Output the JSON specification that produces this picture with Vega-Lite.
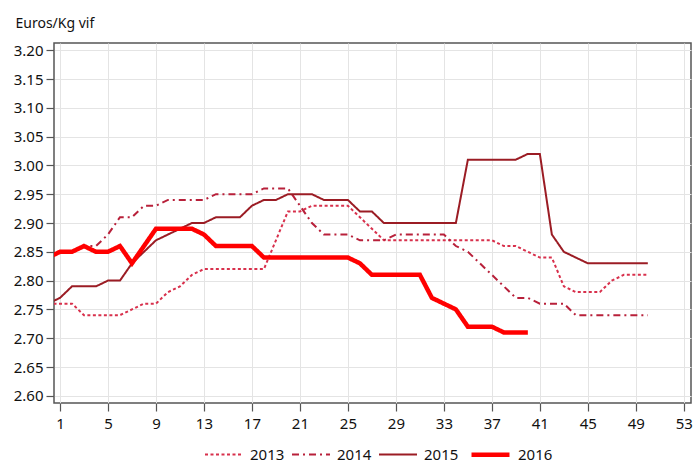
{
  "$schema": "https://vega.github.io/schema/vega-lite/v6.json",
  "width": 637,
  "height": 360,
  "autosize": {"type": "none"},
  "padding": {"left": 54, "top": 43, "right": 2, "bottom": 61},
  "background": "white",
  "config": {
    "font": "Noto Sans",
    "view": {"stroke": "#555555", "strokeWidth": 1.5},
    "axis": {"labelFont": "Noto Sans", "labelFontSize": 15, "labelColor": "#111111", "tickColor": "#555555", "tickSize": 8, "tickWidth": 1.2, "gridColor": "#e4e4e4", "gridWidth": 1, "domain": false}
  },
  "data": {"values": [
    {"year":"2013","week":0,"price":2.76},{"year":"2013","week":1,"price":2.76},{"year":"2013","week":2,"price":2.76},{"year":"2013","week":3,"price":2.74},{"year":"2013","week":4,"price":2.74},{"year":"2013","week":5,"price":2.74},{"year":"2013","week":6,"price":2.74},{"year":"2013","week":7,"price":2.75},{"year":"2013","week":8,"price":2.76},{"year":"2013","week":9,"price":2.76},{"year":"2013","week":10,"price":2.78},{"year":"2013","week":11,"price":2.79},{"year":"2013","week":12,"price":2.81},{"year":"2013","week":13,"price":2.82},{"year":"2013","week":14,"price":2.82},{"year":"2013","week":15,"price":2.82},{"year":"2013","week":16,"price":2.82},{"year":"2013","week":17,"price":2.82},{"year":"2013","week":18,"price":2.82},{"year":"2013","week":19,"price":2.87},{"year":"2013","week":20,"price":2.92},{"year":"2013","week":21,"price":2.92},{"year":"2013","week":22,"price":2.93},{"year":"2013","week":23,"price":2.93},{"year":"2013","week":24,"price":2.93},{"year":"2013","week":25,"price":2.93},{"year":"2013","week":26,"price":2.91},{"year":"2013","week":27,"price":2.89},{"year":"2013","week":28,"price":2.87},{"year":"2013","week":29,"price":2.87},{"year":"2013","week":30,"price":2.87},{"year":"2013","week":31,"price":2.87},{"year":"2013","week":32,"price":2.87},{"year":"2013","week":33,"price":2.87},{"year":"2013","week":34,"price":2.87},{"year":"2013","week":35,"price":2.87},{"year":"2013","week":36,"price":2.87},{"year":"2013","week":37,"price":2.87},{"year":"2013","week":38,"price":2.86},{"year":"2013","week":39,"price":2.86},{"year":"2013","week":40,"price":2.85},{"year":"2013","week":41,"price":2.84},{"year":"2013","week":42,"price":2.84},{"year":"2013","week":43,"price":2.79},{"year":"2013","week":44,"price":2.78},{"year":"2013","week":45,"price":2.78},{"year":"2013","week":46,"price":2.78},{"year":"2013","week":47,"price":2.80},{"year":"2013","week":48,"price":2.81},{"year":"2013","week":49,"price":2.81},{"year":"2013","week":50,"price":2.81},
    {"year":"2014","week":0,"price":2.84},{"year":"2014","week":1,"price":2.85},{"year":"2014","week":2,"price":2.85},{"year":"2014","week":3,"price":2.86},{"year":"2014","week":4,"price":2.86},{"year":"2014","week":5,"price":2.88},{"year":"2014","week":6,"price":2.91},{"year":"2014","week":7,"price":2.91},{"year":"2014","week":8,"price":2.93},{"year":"2014","week":9,"price":2.93},{"year":"2014","week":10,"price":2.94},{"year":"2014","week":11,"price":2.94},{"year":"2014","week":12,"price":2.94},{"year":"2014","week":13,"price":2.94},{"year":"2014","week":14,"price":2.95},{"year":"2014","week":15,"price":2.95},{"year":"2014","week":16,"price":2.95},{"year":"2014","week":17,"price":2.95},{"year":"2014","week":18,"price":2.96},{"year":"2014","week":19,"price":2.96},{"year":"2014","week":20,"price":2.96},{"year":"2014","week":21,"price":2.93},{"year":"2014","week":22,"price":2.90},{"year":"2014","week":23,"price":2.88},{"year":"2014","week":24,"price":2.88},{"year":"2014","week":25,"price":2.88},{"year":"2014","week":26,"price":2.87},{"year":"2014","week":27,"price":2.87},{"year":"2014","week":28,"price":2.87},{"year":"2014","week":29,"price":2.88},{"year":"2014","week":30,"price":2.88},{"year":"2014","week":31,"price":2.88},{"year":"2014","week":32,"price":2.88},{"year":"2014","week":33,"price":2.88},{"year":"2014","week":34,"price":2.86},{"year":"2014","week":35,"price":2.85},{"year":"2014","week":36,"price":2.83},{"year":"2014","week":37,"price":2.81},{"year":"2014","week":38,"price":2.79},{"year":"2014","week":39,"price":2.77},{"year":"2014","week":40,"price":2.77},{"year":"2014","week":41,"price":2.76},{"year":"2014","week":42,"price":2.76},{"year":"2014","week":43,"price":2.76},{"year":"2014","week":44,"price":2.74},{"year":"2014","week":45,"price":2.74},{"year":"2014","week":46,"price":2.74},{"year":"2014","week":47,"price":2.74},{"year":"2014","week":48,"price":2.74},{"year":"2014","week":49,"price":2.74},{"year":"2014","week":50,"price":2.74},
    {"year":"2015","week":0,"price":2.76},{"year":"2015","week":1,"price":2.77},{"year":"2015","week":2,"price":2.79},{"year":"2015","week":3,"price":2.79},{"year":"2015","week":4,"price":2.79},{"year":"2015","week":5,"price":2.80},{"year":"2015","week":6,"price":2.80},{"year":"2015","week":7,"price":2.83},{"year":"2015","week":8,"price":2.85},{"year":"2015","week":9,"price":2.87},{"year":"2015","week":10,"price":2.88},{"year":"2015","week":11,"price":2.89},{"year":"2015","week":12,"price":2.90},{"year":"2015","week":13,"price":2.90},{"year":"2015","week":14,"price":2.91},{"year":"2015","week":15,"price":2.91},{"year":"2015","week":16,"price":2.91},{"year":"2015","week":17,"price":2.93},{"year":"2015","week":18,"price":2.94},{"year":"2015","week":19,"price":2.94},{"year":"2015","week":20,"price":2.95},{"year":"2015","week":21,"price":2.95},{"year":"2015","week":22,"price":2.95},{"year":"2015","week":23,"price":2.94},{"year":"2015","week":24,"price":2.94},{"year":"2015","week":25,"price":2.94},{"year":"2015","week":26,"price":2.92},{"year":"2015","week":27,"price":2.92},{"year":"2015","week":28,"price":2.90},{"year":"2015","week":29,"price":2.90},{"year":"2015","week":30,"price":2.90},{"year":"2015","week":31,"price":2.90},{"year":"2015","week":32,"price":2.90},{"year":"2015","week":33,"price":2.90},{"year":"2015","week":34,"price":2.90},{"year":"2015","week":35,"price":3.01},{"year":"2015","week":36,"price":3.01},{"year":"2015","week":37,"price":3.01},{"year":"2015","week":38,"price":3.01},{"year":"2015","week":39,"price":3.01},{"year":"2015","week":40,"price":3.02},{"year":"2015","week":41,"price":3.02},{"year":"2015","week":42,"price":2.88},{"year":"2015","week":43,"price":2.85},{"year":"2015","week":44,"price":2.84},{"year":"2015","week":45,"price":2.83},{"year":"2015","week":46,"price":2.83},{"year":"2015","week":47,"price":2.83},{"year":"2015","week":48,"price":2.83},{"year":"2015","week":49,"price":2.83},{"year":"2015","week":50,"price":2.83},
    {"year":"2016","week":0,"price":2.84},{"year":"2016","week":1,"price":2.85},{"year":"2016","week":2,"price":2.85},{"year":"2016","week":3,"price":2.86},{"year":"2016","week":4,"price":2.85},{"year":"2016","week":5,"price":2.85},{"year":"2016","week":6,"price":2.86},{"year":"2016","week":7,"price":2.83},{"year":"2016","week":8,"price":2.86},{"year":"2016","week":9,"price":2.89},{"year":"2016","week":10,"price":2.89},{"year":"2016","week":11,"price":2.89},{"year":"2016","week":12,"price":2.89},{"year":"2016","week":13,"price":2.88},{"year":"2016","week":14,"price":2.86},{"year":"2016","week":15,"price":2.86},{"year":"2016","week":16,"price":2.86},{"year":"2016","week":17,"price":2.86},{"year":"2016","week":18,"price":2.84},{"year":"2016","week":19,"price":2.84},{"year":"2016","week":20,"price":2.84},{"year":"2016","week":21,"price":2.84},{"year":"2016","week":22,"price":2.84},{"year":"2016","week":23,"price":2.84},{"year":"2016","week":24,"price":2.84},{"year":"2016","week":25,"price":2.84},{"year":"2016","week":26,"price":2.83},{"year":"2016","week":27,"price":2.81},{"year":"2016","week":28,"price":2.81},{"year":"2016","week":29,"price":2.81},{"year":"2016","week":30,"price":2.81},{"year":"2016","week":31,"price":2.81},{"year":"2016","week":32,"price":2.77},{"year":"2016","week":33,"price":2.76},{"year":"2016","week":34,"price":2.75},{"year":"2016","week":35,"price":2.72},{"year":"2016","week":36,"price":2.72},{"year":"2016","week":37,"price":2.72},{"year":"2016","week":38,"price":2.71},{"year":"2016","week":39,"price":2.71},{"year":"2016","week":40,"price":2.71}
  ]},
  "mark": {"type": "line", "clip": true, "strokeCap": "butt"},
  "encoding": {
    "x": {"field": "week", "type": "quantitative",
      "scale": {"domain": [0.5, 53.6], "nice": false, "zero": false},
      "axis": {"values": [1,5,9,13,17,21,25,29,33,37,41,45,49,53], "title": null, "labelPadding": 5, "grid": true}},
    "y": {"field": "price", "type": "quantitative",
      "scale": {"domain": [2.5875, 3.2125], "nice": false, "zero": false},
      "axis": {"values": [2.6,2.65,2.7,2.75,2.8,2.85,2.9,2.95,3.0,3.05,3.1,3.15,3.2], "format": ".2f", "labelPadding": 3, "grid": true,
        "title": "Euros/Kg vif", "titleAngle": 0, "titleX": -39, "titleY": -20, "titleAlign": "left", "titleBaseline": "middle", "titleFont": "Noto Sans", "titleFontSize": 14, "titleFontWeight": "normal", "titleColor": "#111111"}},
    "color": {"field": "year", "type": "ordinal",
      "scale": {"type": "ordinal", "domain": ["2013","2014","2015","2016"], "range": ["#d8304c","#b8203a","#9b1c24","#ff0000"]},
      "legend": {"title": null, "orient": "none", "legendX": 150, "legendY": 390, "direction": "horizontal", "symbolType": "stroke", "symbolSize": 1444, "labelFont": "Noto Sans", "labelFontSize": 15, "labelColor": "#111111", "labelOffset": 6, "columnPadding": 3}},
    "strokeDash": {"field": "year", "type": "ordinal",
      "scale": {"type": "ordinal", "domain": ["2013","2014","2015","2016"], "range": [[3,2.5],[7,4,2,4],[1,0],[1,0]]}},
    "strokeWidth": {"field": "year", "type": "ordinal",
      "scale": {"type": "ordinal", "domain": ["2013","2014","2015","2016"], "range": [2,2,2,4.5]}}
  }
}
